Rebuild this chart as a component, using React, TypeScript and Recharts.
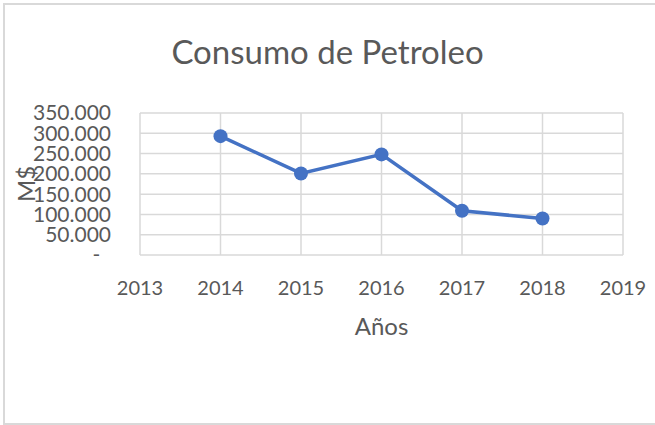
import React from "react";
import {
  LineChart,
  Line,
  XAxis,
  YAxis,
  CartesianGrid,
} from "recharts";

const years = [2014, 2015, 2016, 2017, 2018];
const consumo = [293000, 201000, 248000, 109000, 90000];
const xTicks = [2013, 2014, 2015, 2016, 2017, 2018, 2019];
const yTicks = [0, 50000, 100000, 150000, 200000, 250000, 300000, 350000];

const TEXT = "#595959";
const GRID = "#d9d9d9";
const LINE = "#4472c4";
const FONT = "Lato, 'Open Sans', sans-serif";

const data = years.map((year, i) => ({ year, consumo: consumo[i] }));

// formato contable: miles con punto, cero como guion
const formatMiles = (v: number) =>
  v === 0
    ? "-\u00A0\u00A0"
    : String(v).replace(/\B(?=(\d{3})+(?!\d))/g, ".");

export default function App() {
  return (
    <div
      style={{
        position: "absolute",
        left: 0,
        top: 0,
        width: 655,
        height: 425,
        background: "#fff",
        fontFamily: FONT,
        overflow: "hidden",
      }}
    >
      <div
        style={{
          position: "absolute",
          left: 3,
          top: 3,
          width: 700,
          height: 422,
          boxSizing: "border-box",
          borderLeft: `2px solid ${GRID}`,
          borderTop: `2px solid ${GRID}`,
          borderBottom: `2px solid ${GRID}`,
        }}
      />
      <div
        style={{
          position: "absolute",
          left: 0,
          top: 31,
          width: 655,
          textAlign: "center",
          fontSize: 33,
          color: TEXT,
          lineHeight: "normal",
        }}
      >
        Consumo de Petroleo
      </div>
      <div style={{ position: "absolute", left: 0, top: 0 }}>
        <LineChart
          width={655}
          height={425}
          data={data}
          margin={{ top: 113, right: 32, left: 0, bottom: 0 }}
        >
          <CartesianGrid stroke={GRID} strokeWidth={1.5} />
          <XAxis
            dataKey="year"
            type="number"
            domain={[2013, 2019]}
            ticks={xTicks}
            axisLine={false}
            tickLine={false}
            tickMargin={20}
            height={170}
            tick={{ fill: TEXT, fontSize: 20, fontFamily: FONT }}
            label={({ viewBox }: any) => (
              <text
                x={viewBox.x + viewBox.width / 2}
                y={335}
                textAnchor="middle"
                fill={TEXT}
                fontSize={24}
                fontFamily={FONT}
              >
                Años
              </text>
            )}
          />
          <YAxis
            domain={[0, 350000]}
            ticks={yTicks}
            width={140}
            axisLine={false}
            tickLine={false}
            tickMargin={23}
            interval={0}
            tickFormatter={formatMiles}
            tick={{ fill: TEXT, fontSize: 21, fontFamily: FONT }}
            label={({ viewBox }: any) => {
              const cy = viewBox.y + viewBox.height / 2;
              return (
                <text
                  x={25}
                  y={cy}
                  transform={`rotate(-90 25 ${cy})`}
                  textAnchor="middle"
                  dominantBaseline="central"
                  fill={TEXT}
                  fontSize={24}
                  fontFamily={FONT}
                >
                  M$
                </text>
              );
            }}
          />
          <Line
            type="linear"
            dataKey="consumo"
            stroke={LINE}
            strokeWidth={3.5}
            dot={{ r: 7, fill: LINE, stroke: LINE, strokeWidth: 0 }}
            isAnimationActive={false}
          />
        </LineChart>
      </div>
    </div>
  );
}
